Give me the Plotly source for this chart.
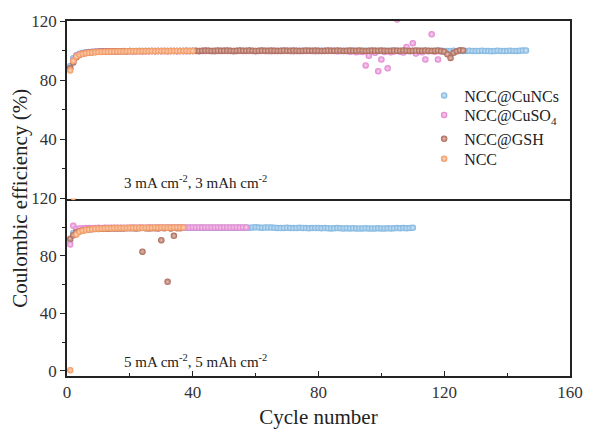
import plotly.graph_objects as go
from plotly.subplots import make_subplots

# ---------------- data ----------------
series_names = ["NCC@CuNCs", "NCC@CuSO<sub>4</sub>", "NCC@GSH", "NCC"]
series_colors = ["#7db4df", "#e283d0", "#ab6553", "#f3965e"]
series_light = ["#d6e9f7", "#f7d6ef", "#e4c2b8", "#fbd9c2"]

# Top panel: 3 mA cm-2, 3 mAh cm-2
top_cuncs = [
    89.5, 94.8, 96.9, 97.9, 98.4, 98.8, 99.0, 99.2, 99.3, 99.4,
    99.4, 99.5, 99.5, 99.6, 99.5, 99.6, 99.6, 99.7, 99.6, 99.7,
    99.7, 99.6, 99.7, 99.8, 99.7, 99.7, 99.8, 99.7, 99.8, 99.7,
    99.8, 99.7, 99.8, 99.8, 99.7, 99.8, 99.8, 99.7, 99.8, 99.9,
    99.8, 99.7, 99.8, 99.8, 99.9, 99.8, 99.7, 99.8, 99.8, 99.9,
    99.8, 99.8, 99.7, 99.8, 99.9, 99.8, 99.8, 99.9, 99.8, 99.7,
    99.8, 99.9, 99.8, 99.8, 99.7, 99.8, 99.9, 99.8, 99.8, 99.9,
    99.8, 99.7, 99.8, 99.9, 99.8, 99.8, 99.9, 99.8, 99.7, 99.8,
    99.9, 99.8, 99.8, 99.9, 99.8, 99.7, 99.8, 99.9, 99.8, 99.8,
    99.9, 99.8, 99.7, 99.8, 99.9, 99.8, 99.8, 99.9, 99.8, 99.7,
    99.8, 99.9, 99.8, 99.8, 99.9, 99.8, 99.7, 99.8, 99.9, 99.8,
    99.8, 99.9, 99.8, 99.7, 99.8, 99.9, 99.8, 99.8, 99.9, 99.8,
    99.7, 99.8, 99.9, 99.8, 99.8, 99.7, 99.8, 99.9, 99.8, 99.7,
    99.8, 99.9, 99.8, 99.7, 99.6, 99.8, 99.9, 99.8, 99.7, 99.8,
    99.9, 99.8, 99.8, 99.9, 100.0, 100.1,
]
top_cuso4 = [
    87.8, 93.5, 96.5, 97.6, 98.2, 98.6, 98.9, 99.1, 99.2, 99.3,
    99.3, 99.4, 99.4, 99.5, 99.4, 99.5, 99.5, 99.6, 99.5, 99.6,
    99.6, 99.5, 99.6, 99.7, 99.6, 99.6, 99.7, 99.6, 99.7, 99.6,
    99.7, 99.6, 99.7, 99.7, 99.6, 99.7, 99.7, 99.6, 99.7, 99.8,
    99.7, 99.6, 99.7, 99.7, 99.8, 99.7, 99.6, 99.7, 99.7, 99.8,
    99.7, 99.7, 99.6, 99.7, 99.8, 99.7, 99.7, 99.8, 99.7, 99.6,
    99.7, 99.8, 99.7, 99.7, 99.6, 99.7, 99.8, 99.7, 99.7, 99.8,
    99.7, 99.6, 99.7, 99.8, 99.7, 99.7, 99.8, 99.7, 99.6, 99.7,
    99.8, 99.7, 99.7, 99.8, 99.7, 99.6, 99.7, 99.8, 99.7, 99.2,
    99.5, 98.8, 99.4, 99.0, 90.0, 96.5, 99.3, 98.6, 86.0, 94.0,
    99.1, 88.0, 98.9, 99.4, 121.0, 99.2, 98.7, 102.5, 99.5, 105.0,
    98.0, 99.3, 98.8, 94.0, 99.6, 111.0, 99.2, 94.0, 99.4,
]
top_gsh = [
    88.0, 92.0, 95.5, 97.0, 97.8, 98.3, 98.7, 98.9, 99.1, 99.2,
    99.3, 99.4, 99.4, 99.5, 99.5, 99.6, 99.5, 99.6, 99.6, 99.7,
    99.6, 99.7, 99.7, 99.6, 99.7, 99.8, 99.7, 99.7, 99.8, 99.7,
    99.8, 99.7, 99.8, 99.8, 99.7, 99.8, 99.8, 99.9, 99.8, 99.8,
    99.9, 99.8, 99.9, 100.0, 99.9, 99.8, 99.9, 100.0, 99.9, 99.9,
    100.0, 99.9, 99.8, 99.9, 100.0, 99.9, 99.9, 100.0, 99.9, 99.8,
    99.9, 100.0, 99.9, 99.9, 100.0, 99.9, 99.8, 99.9, 100.0, 99.9,
    99.9, 100.0, 99.9, 99.8, 99.9, 100.0, 99.9, 99.9, 100.0, 99.9,
    99.8, 99.9, 100.0, 99.9, 99.9, 100.0, 99.9, 99.8, 99.9, 100.0,
    99.9, 99.9, 100.0, 99.9, 99.8, 99.9, 100.0, 99.9, 99.9, 100.0,
    99.9, 99.8, 99.9, 100.0, 99.9, 99.9, 100.0, 99.9, 99.8, 99.9,
    100.0, 99.9, 99.9, 100.0, 99.9, 99.8, 99.9, 100.0, 99.7, 99.2,
    97.5, 95.0, 98.5, 99.6, 100.2, 100.0,
]
top_ncc = [
    86.5, 93.0, 96.0, 97.2, 97.8, 98.2, 98.5, 98.7, 98.9, 99.0,
    99.1, 99.2, 99.2, 99.3, 99.3, 99.4, 99.4, 99.4, 99.5, 99.5,
    99.5, 99.6, 99.5, 99.6, 99.6, 99.6, 99.7, 99.6, 99.7, 99.7,
    99.7, 99.6, 99.7, 99.7, 99.8, 99.7, 99.7, 99.8, 99.7, 99.8,
]

# Bottom panel: 5 mA cm-2, 5 mAh cm-2
bot_cuncs = [
    90.5, 96.0, 97.8, 98.5, 98.8, 99.0, 99.1, 99.2, 99.2, 99.3,
    99.3, 99.4, 99.3, 99.4, 99.4, 99.5, 99.4, 99.5, 99.5, 99.4,
    99.5, 99.5, 99.6, 99.5, 99.5, 99.6, 99.5, 99.6, 99.6, 99.5,
    99.6, 99.6, 99.5, 99.6, 99.6, 99.7, 99.6, 99.6, 99.7, 99.6,
    99.6, 99.7, 99.6, 99.6, 99.7, 99.6, 99.6, 99.7, 99.6, 99.7,
    99.7, 99.6, 99.7, 99.7, 99.6, 99.7, 99.8, 99.7, 99.9, 100.0,
    99.8, 99.7, 99.8, 99.9, 99.8, 99.6, 99.5, 99.4, 99.5, 99.6,
    99.5, 99.4, 99.5, 99.6, 99.5, 99.4, 99.3, 99.4, 99.5, 99.4,
    99.3, 99.4, 99.3, 99.2, 99.3, 99.4, 99.3, 99.2, 99.3, 99.2,
    99.3, 99.2, 99.1, 99.2, 99.3, 99.2, 99.1, 99.2, 99.3, 99.2,
    99.2, 99.3, 99.2, 99.3, 99.4, 99.3, 99.4, 99.3, 99.5, 99.6,
]
bot_cuso4 = [
    88.0, 101.0, 99.0, 99.2, 99.3, 99.4, 99.4, 99.5, 99.5, 99.6,
    99.5, 99.6, 99.6, 99.7, 99.6, 99.7, 99.7, 99.6, 99.7, 99.7,
    99.8, 99.7, 99.7, 99.8, 99.7, 99.8, 99.8, 99.7, 99.8, 99.8,
    99.7, 99.8, 99.8, 99.9, 99.8, 99.8, 99.9, 99.8, 99.8, 99.9,
    99.8, 99.9, 99.8, 99.9, 99.9, 99.8, 99.9, 99.9, 99.8, 99.9,
    99.9, 99.8, 99.9, 99.9, 99.8, 99.9, 99.9,
]
bot_gsh = [
    92.0, 94.5, 96.5, 97.3, 97.8, 98.1, 98.4, 98.6, 98.7, 98.8,
    98.9, 99.0, 99.0, 99.1, 99.1, 99.2, 99.2, 99.2, 99.3, 99.3,
    99.3, 99.2, 99.3, 83.0, 99.3, 99.2, 99.3, 99.3, 99.2, 91.0,
    99.3, 62.0, 99.2, 94.0, 99.3, 99.3,
]
bot_ncc = [
    0.5, 121.0, 95.0, 96.8, 97.6, 98.1, 98.4, 98.7, 98.9, 99.0,
    99.1, 99.2, 99.3, 99.3, 99.4, 99.4, 99.5, 99.5, 99.5, 99.6,
    99.6, 99.6, 99.7, 99.6, 99.7, 99.7, 99.7, 99.8, 99.7, 99.8,
    99.8, 99.7, 99.8, 99.8, 99.9, 99.8, 99.8,
]

top_series = [top_cuncs, top_cuso4, top_gsh, top_ncc]
bot_series = [bot_cuncs, bot_cuso4, bot_gsh, bot_ncc]

y_ticks_top = [40, 80, 120]
y_ticks_bot = [0, 40, 80, 120]
x_ticks = [0, 40, 80, 120, 160]

# ---------------- figure ----------------
FONT = "Liberation Serif, Times New Roman, serif"
fig = make_subplots(rows=2, cols=1, shared_xaxes=True, vertical_spacing=0)

legend_ids = ["legend", "legend2", "legend3", "legend4"]
legend_y = [0.790, 0.735, 0.668, 0.612]

for i, (name, col, light) in enumerate(zip(series_names, series_colors, series_light)):
    marker = dict(size=6.5, color=col,
                  gradient=dict(type="radial", color=light),
                  line=dict(width=0))
    ys = top_series[i]
    fig.add_trace(go.Scatter(x=list(range(1, len(ys) + 1)), y=ys, mode="markers",
                             marker=marker, name=name, showlegend=True,
                             legend=legend_ids[i]),
                  row=1, col=1)
    ys = bot_series[i]
    fig.add_trace(go.Scatter(x=list(range(1, len(ys) + 1)), y=ys, mode="markers",
                             marker=marker, name=name, showlegend=False),
                  row=2, col=1)

line_style = dict(showline=True, linecolor="#222", linewidth=1.5,
                  showgrid=False, zeroline=False)

fig.update_xaxes(range=[0, 160], **line_style)
fig.update_xaxes(showticklabels=False, ticks="", mirror=True, row=1, col=1)
fig.update_xaxes(tickvals=x_ticks, ticks="inside", ticklen=5, tickwidth=1.3,
                 tickcolor="#222", mirror=False,
                 minor=dict(ticks="inside", ticklen=3, tickwidth=1.2, dtick=20,
                            tick0=0, tickcolor="#222"),
                 tickfont=dict(family=FONT, size=17, color="#333"),
                 title=dict(text="Cycle number", standoff=8,
                            font=dict(family=FONT, size=21, color="#222")),
                 row=2, col=1)

yt = dict(ticks="outside", ticklen=5, tickwidth=1.3, tickcolor="#222", mirror=True,
          minor=dict(ticks="outside", ticklen=3, tickwidth=1.2, dtick=20, tick0=0,
                     tickcolor="#222"),
          tickfont=dict(family=FONT, size=17, color="#333"))
fig.update_yaxes(range=[0, 120], tickvals=y_ticks_top, row=1, col=1, **yt, **line_style)
fig.update_yaxes(range=[-3.5, 120], tickvals=y_ticks_bot, row=2, col=1, **yt, **line_style)

fig.add_annotation(text="Coulombic efficiency (%)", xref="paper", yref="paper",
                   x=-0.095, y=0.5, textangle=-90, showarrow=False,
                   xanchor="center", yanchor="middle",
                   font=dict(family=FONT, size=21, color="#222"))
fig.add_annotation(text="3 mA cm<sup>-2</sup>, 3 mAh cm<sup>-2</sup>",
                   xref="x", yref="y", x=41, y=11, showarrow=False,
                   font=dict(family=FONT, size=15, color="#222"))
fig.add_annotation(text="5 mA cm<sup>-2</sup>, 5 mAh cm<sup>-2</sup>",
                   xref="x2", yref="y2", x=41, y=7, showarrow=False,
                   font=dict(family=FONT, size=15, color="#222"))

legend_common = dict(x=0.71, xanchor="left", yanchor="middle",
                     bgcolor="rgba(0,0,0,0)", borderwidth=0,
                     font=dict(family=FONT, size=16, color="#222"))
layout_legends = {lid: dict(y=ly, **legend_common) for lid, ly in zip(legend_ids, legend_y)}

fig.update_layout(
    width=595, height=437,
    margin=dict(l=67, r=16, t=20, b=59),
    paper_bgcolor="white", plot_bgcolor="white",
    showlegend=True,
    **layout_legends,
)

fig.write_html("out.html")
